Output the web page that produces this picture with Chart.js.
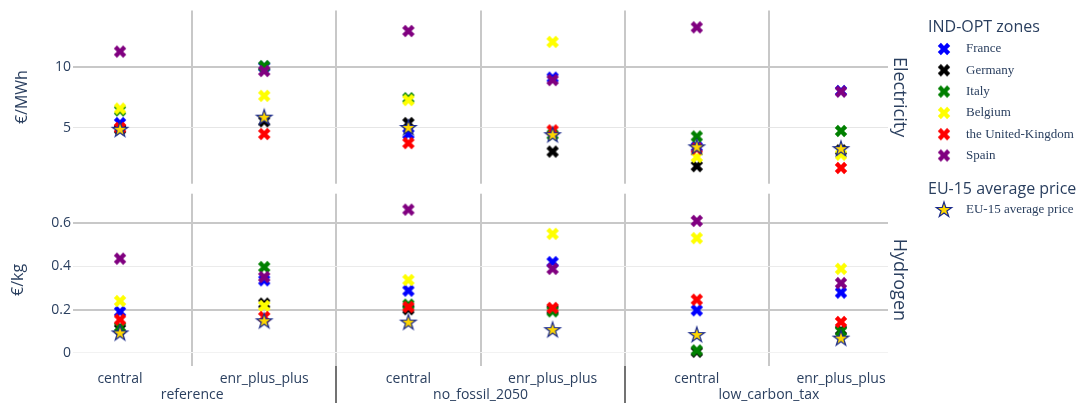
<!DOCTYPE html>
<html>
<head>
<meta charset="utf-8">
<script src="https://cdn.jsdelivr.net/npm/chart.js@4.4.1/dist/chart.umd.min.js"></script>
<style>
  body { margin: 0; background: #fff; }
  #wrap { width: 1082px; height: 403px; position: relative; }
</style>
</head>
<body>
<div id="wrap"><canvas id="prices"></canvas></div>
<script>
const scenarios = ['reference', 'no_fossil_2050', 'low_carbon_tax'];
const variants = ['central', 'enr_plus_plus'];
const zones = ['France', 'Germany', 'Italy', 'Belgium', 'the United-Kingdom', 'Spain'];
const zoneColors = ['#0000ff', '#000000', '#008000', '#ffff00', '#ff0000', '#800080'];

// electricity price (€/MWh), columns: ref central, ref enr++, nf central, nf enr++, lct central, lct enr++
const elecFrance = [5.4, 10.05, 4.5, 9.15, 3.45, 8.05];
const elecGermany = [4.9, 5.55, 5.4, 3.05, 1.85, 3.15];
const elecItaly = [6.45, 10.1, 7.45, 4.45, 4.3, 4.75];
const elecBelgium = [6.6, 7.65, 7.3, 12.1, 2.6, 2.8];
const elecUK = [5.0, 4.5, 3.75, 4.8, 3.3, 1.7];
const elecSpain = [11.3, 9.7, 13.0, 8.95, 13.3, 8.0];
const elecEU15 = [4.85, 5.85, 5.0, 4.4, 3.4, 3.25];

// hydrogen price (€/kg)
const h2France = [0.19, 0.336, 0.288, 0.42, 0.197, 0.279];
const h2Germany = [0.11, 0.228, 0.202, 0.2, 0.005, 0.105];
const h2Italy = [0.12, 0.397, 0.223, 0.192, 0.011, 0.1];
const h2Belgium = [0.24, 0.217, 0.337, 0.551, 0.531, 0.389];
const h2UK = [0.154, 0.166, 0.212, 0.208, 0.246, 0.143];
const h2Spain = [0.436, 0.351, 0.663, 0.389, 0.611, 0.323];
const h2EU15 = [0.09, 0.146, 0.14, 0.105, 0.082, 0.066];

const elecTicks = [5, 10];
const h2Ticks = [0, 0.2, 0.4, 0.6];

const elecByZone = [elecFrance, elecGermany, elecItaly, elecBelgium, elecUK, elecSpain];
const h2ByZone = [h2France, h2Germany, h2Italy, h2Belgium, h2UK, h2Spain];

const nCols = scenarios.length * variants.length;
// integer ticks carry the variant label, half ticks the grid lines and scenario names
let xTicks = [];
for (let j = 0; j < nCols; j++) {
    xTicks.push(j);
    if (j < nCols - 1) xTicks.push(j + 0.5);
}

const TICK_COLOR = '#2a3f5f';
const GRID_DARK = '#c8c8c8';

// plotly-like filled "x" marker
function makeX(color, size) {
    const r = size / 2, rx = r * 0.8 / Math.SQRT2;
    const half = Math.ceil(2 * rx) + 1;
    const c = document.createElement('canvas');
    c.width = c.height = half * 2;
    const g = c.getContext('2d');
    g.translate(half, half);
    const pts = [[0, rx], [rx, 2 * rx], [2 * rx, rx], [rx, 0], [2 * rx, -rx], [rx, -2 * rx],
        [0, -rx], [-rx, -2 * rx], [-2 * rx, -rx], [-rx, 0], [-2 * rx, rx], [-rx, 2 * rx]];
    g.beginPath();
    pts.forEach((p, i) => i ? g.lineTo(p[0], p[1]) : g.moveTo(p[0], p[1]));
    g.closePath();
    g.fillStyle = color;
    g.fill();
    return c;
}

// filled 5 point star with outline
function makeStar(fill, stroke, size) {
    const rs = size / 2 * 1.4;
    const x1 = rs * 0.225, x2 = rs * 0.951, x3 = rs * 0.363, x4 = rs * 0.588;
    const y0 = -rs, y1 = rs * -0.309, y3 = rs * 0.118, y4 = rs * 0.809, y5 = rs * 0.382;
    const half = Math.ceil(rs) + 2;
    const c = document.createElement('canvas');
    c.width = c.height = half * 2;
    const g = c.getContext('2d');
    g.translate(half, half);
    const pts = [[x1, y1], [x2, y1], [x3, y3], [x4, y4], [0, y5], [-x4, y4], [-x3, y3], [-x2, y1], [-x1, y1], [0, y0]];
    g.beginPath();
    pts.forEach((p, i) => i ? g.lineTo(p[0], p[1]) : g.moveTo(p[0], p[1]));
    g.closePath();
    g.fillStyle = fill;
    g.fill();
    g.lineWidth = 1.2;
    g.strokeStyle = stroke;
    g.stroke();
    return c;
}

const xMarks = zoneColors.map(c => makeX(c, 11));
const starMark = makeStar('#ffd700', '#1a2a8a', 11.5);

function toPoints(values) {
    return values.map((v, j) => ({ x: j, y: v }));
}

let datasets = [];
zones.forEach((zone, z) => {
    datasets.push({
        label: zone, data: toPoints(elecByZone[z]), yAxisID: 'yE',
        pointStyle: xMarks[z], pointRadius: 6, order: zones.length - z
    });
    datasets.push({
        label: zone, data: toPoints(h2ByZone[z]), yAxisID: 'yH',
        pointStyle: xMarks[z], pointRadius: 6, order: zones.length - z
    });
});
datasets.push({ label: 'EU-15 average price', data: toPoints(elecEU15), yAxisID: 'yE', pointStyle: starMark, pointRadius: 6, order: 0 });
datasets.push({ label: 'EU-15 average price', data: toPoints(h2EU15), yAxisID: 'yH', pointStyle: starMark, pointRadius: 6, order: 0 });

// white strip between the two panels
const panelGap = {
    id: 'panelGap',
    beforeDatasetsDraw(chart) {
        const { ctx, chartArea } = chart;
        const top = chart.scales.yE.bottom, bottom = chart.scales.yH.top;
        ctx.save();
        ctx.fillStyle = '#fff';
        ctx.fillRect(chartArea.left - 1, top, chartArea.right - chartArea.left + 2, bottom - top);
        ctx.restore();
    }
};

// facet labels on the right and the grouped legend
const sideText = {
    id: 'sideText',
    afterDraw(chart) {
        const ctx = chart.ctx;
        ctx.save();
        ctx.fillStyle = TICK_COLOR;
        ctx.textBaseline = 'middle';

        ctx.font = '18px "Open Sans"';
        ctx.textAlign = 'center';
        [['Electricity', chart.scales.yE], ['Hydrogen', chart.scales.yH]].forEach(([txt, sc]) => {
            ctx.save();
            ctx.translate(899, (sc.top + sc.bottom) / 2);
            ctx.rotate(Math.PI / 2);
            ctx.fillText(txt, 0, 0);
            ctx.restore();
        });

        ctx.textAlign = 'left';
        ctx.font = '16px "Open Sans"';
        ctx.fillText('IND-OPT zones', 928, 27);
        ctx.fillText('EU-15 average price', 928, 189);

        ctx.font = '13px "Liberation Serif"';
        zones.forEach((zone, z) => {
            const y = 49 + z * 21.3;
            ctx.drawImage(xMarks[z], 944 - xMarks[z].width / 2, y - xMarks[z].height / 2);
            ctx.fillText(zone, 966, y);
        });
        ctx.drawImage(starMark, 944 - starMark.width / 2, 210 - starMark.height / 2);
        ctx.fillText('EU-15 average price', 966, 210);
        ctx.restore();
    }
};

const tickFont = { family: 'Open Sans', size: 14 };
const titleFont = { family: 'Open Sans', size: 16 };

new Chart(document.getElementById('prices'), {
    type: 'scatter',
    data: { datasets: datasets },
    options: {
        responsive: true,
        maintainAspectRatio: false,
        animation: false,
        layout: { padding: { top: 9, left: 7, right: 194, bottom: 0 } },
        plugins: {
            legend: { display: false },
            tooltip: { enabled: true }
        },
        scales: {
            x: {
                type: 'linear',
                min: -0.326,
                max: 5.326,
                afterBuildTicks: (scale) => { scale.ticks = xTicks.map(v => ({ value: v })); },
                afterFit: (scale) => { scale.height = 37; },
                border: { display: false },
                grid: {
                    color: (c) => Number.isInteger(c.tick.value) ? 'rgba(0,0,0,0)' : GRID_DARK,
                    lineWidth: 2,
                    drawTicks: true,
                    tickLength: 37,
                    tickColor: (c) => (c.tick.value === 1.5 || c.tick.value === 3.5) ? '#444' : 'rgba(0,0,0,0)',
                    tickWidth: 1.5
                },
                ticks: {
                    autoSkip: false,
                    maxRotation: 0,
                    minRotation: 0,
                    padding: -32.8,
                    color: TICK_COLOR,
                    font: tickFont,
                    callback: (v) => {
                        if (Number.isInteger(v)) return variants[v % 2];
                        if ((v - 0.5) % 2 === 0) return ['', scenarios[(v - 0.5) / 2]];
                        return '';
                    }
                }
            },
            yE: {
                type: 'linear',
                position: 'left',
                stack: 'panels',
                stackWeight: 174,
                weight: 3,
                min: 0.4,
                max: 14.7,
                afterBuildTicks: (scale) => { scale.ticks = elecTicks.map(v => ({ value: v })); },
                afterFit: (scale) => { scale.width = 66; },
                border: { display: false },
                grid: {
                    drawTicks: false,
                    color: (c) => c.tick.value === 10 ? GRID_DARK : '#e6e6e6',
                    lineWidth: (c) => c.tick.value === 10 ? 2 : 1
                },
                ticks: { padding: 2, color: TICK_COLOR, font: tickFont, callback: (v) => String(v) },
                title: { display: true, text: '€/MWh', color: TICK_COLOR, font: titleFont, padding: { top: 6, bottom: 0 } }
            },
            gap: {
                type: 'linear',
                position: 'left',
                stack: 'panels',
                stackWeight: 10,
                weight: 2,
                afterFit: (scale) => { scale.width = 66; },
                border: { display: false },
                grid: { display: false },
                ticks: { display: false }
            },
            yH: {
                type: 'linear',
                position: 'left',
                stack: 'panels',
                stackWeight: 173,
                weight: 1,
                min: -0.061,
                max: 0.737,
                afterBuildTicks: (scale) => { scale.ticks = h2Ticks.map(v => ({ value: v })); },
                afterFit: (scale) => { scale.width = 66; },
                border: { display: false },
                grid: {
                    drawTicks: false,
                    color: (c) => (c.tick.value === 0.2 || c.tick.value === 0.6) ? GRID_DARK : (c.tick.value === 0 ? '#f2f2f2' : '#ebebeb'),
                    lineWidth: (c) => (c.tick.value === 0.2 || c.tick.value === 0.6) ? 2 : 1
                },
                ticks: { padding: 2, color: TICK_COLOR, font: tickFont, callback: (v) => String(v) },
                title: { display: true, text: '€/kg', color: TICK_COLOR, font: titleFont, padding: { top: 2, bottom: 0 } }
            }
        }
    },
    plugins: [panelGap, sideText]
});
</script>
</body>
</html>
